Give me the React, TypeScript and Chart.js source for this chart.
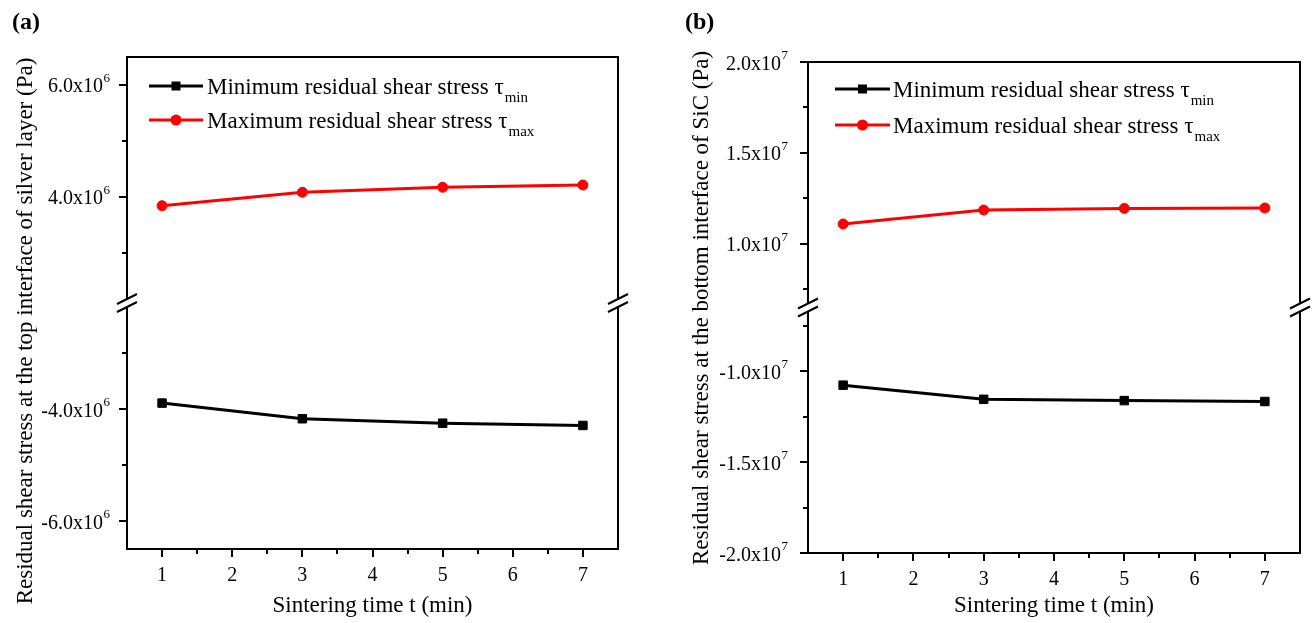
import React, { useEffect, useRef } from 'react';
import { Chart, registerables } from 'chart.js';

Chart.register(...registerables);

const FONT = "'Liberation Serif', 'Times New Roman', Times, serif";

// ---------- shared data ----------
const sinteringTimes = [1, 3, 5, 7];
const xTickValues = [1, 2, 3, 4, 5, 6, 7];
const xMinorTickValues = [1.5, 2.5, 3.5, 4.5, 5.5, 6.5];
const legendLabels = ['Minimum residual shear stress τ', 'Maximum residual shear stress τ'];
const legendSubscripts = ['min', 'max'];
const xTitle = 'Sintering time t (min)';

// ---------- panel (a): top interface of silver layer ----------
const silverMinStress = [-3.89e6, -4.17e6, -4.25e6, -4.29e6];
const silverMaxStress = [3.84e6, 4.08e6, 4.17e6, 4.21e6];
const silverUpperRange = [2.1e6, 6.5e6];
const silverLowerRange = [-6.5e6, -2.1e6];
const silverUpperTicks = [4e6, 6e6];
const silverUpperMinor = [3e6, 5e6];
const silverLowerTicks = [-6e6, -4e6];
const silverLowerMinor = [-5e6, -3e6];

// ---------- panel (b): bottom interface of SiC ----------
const sicMinStress = [-1.077e7, -1.155e7, -1.162e7, -1.167e7];
const sicMaxStress = [1.109e7, 1.186e7, 1.195e7, 1.197e7];
const sicUpperRange = [0.65e7, 2.0e7];
const sicLowerRange = [-2.0e7, -0.65e7];
const sicUpperTicks = [1.0e7, 1.5e7, 2.0e7];
const sicUpperMinor = [0.75e7, 1.25e7, 1.75e7];
const sicLowerTicks = [-2.0e7, -1.5e7, -1.0e7];
const sicLowerMinor = [-1.75e7, -1.25e7, -0.75e7];

type PanelCfg = {
  left: number;
  width: number;
  height: number;
  area: { left: number; right: number; top: number; bottom: number };
  minData: number[];
  maxData: number[];
  upperRange: number[];
  lowerRange: number[];
  upperTicks: number[];
  upperMinor: number[];
  lowerTicks: number[];
  lowerMinor: number[];
  exp: number;
  yTitle: string;
  yTitleX: number;
  yTitleCenter: number;
  legendLine: number[];
  legendTextX: number;
  legendRows: number[];
  tag: string;
  tagX: number;
  labelGap: number;
};

const panelA: PanelCfg = {
  left: 0,
  width: 657,
  height: 623,
  area: { left: 127, right: 618, top: 57, bottom: 549 },
  minData: silverMinStress,
  maxData: silverMaxStress,
  upperRange: silverUpperRange,
  lowerRange: silverLowerRange,
  upperTicks: silverUpperTicks,
  upperMinor: silverUpperMinor,
  lowerTicks: silverLowerTicks,
  lowerMinor: silverLowerMinor,
  exp: 6,
  yTitle: 'Residual shear stress at the top interface of silver layer (Pa)',
  yTitleX: 32,
  yTitleCenter: 331,
  legendLine: [149, 203],
  legendTextX: 207,
  legendRows: [86, 120],
  tag: '(a)',
  tagX: 12,
  labelGap: 17,
};

const panelB: PanelCfg = {
  left: 657,
  width: 657,
  height: 623,
  area: { left: 151, right: 643, top: 62, bottom: 553 },
  minData: sicMinStress,
  maxData: sicMaxStress,
  upperRange: sicUpperRange,
  lowerRange: sicLowerRange,
  upperTicks: sicUpperTicks,
  upperMinor: sicUpperMinor,
  lowerTicks: sicLowerTicks,
  lowerMinor: sicLowerMinor,
  exp: 7,
  yTitle: 'Residual shear stress at the bottom interface of SiC (Pa)',
  yTitleX: 51,
  yTitleCenter: 308,
  legendLine: [178, 233],
  legendTextX: 236,
  legendRows: [89, 125],
  tag: '(b)',
  tagX: 28,
  labelGap: 20,
};

function makeDecorPlugin(cfg: PanelCfg) {
  return {
    id: 'panelDecor',
    afterDraw(chart: any) {
      const ctx: CanvasRenderingContext2D = chart.ctx;
      const { left, right, top, bottom } = chart.chartArea;
      const xs = chart.scales.x;
      const hi = chart.scales.yHi;
      const lo = chart.scales.yLo;
      ctx.save();
      ctx.strokeStyle = '#000';
      ctx.fillStyle = '#000';
      ctx.lineWidth = 2;
      ctx.lineCap = 'butt';

      // frame
      ctx.strokeRect(left, top, right - left, bottom - top);

      // ticks
      ctx.beginPath();
      xTickValues.forEach((v) => {
        const p = Math.round(xs.getPixelForValue(v));
        ctx.moveTo(p, bottom);
        ctx.lineTo(p, bottom + 8);
      });
      xMinorTickValues.forEach((v) => {
        const p = Math.round(xs.getPixelForValue(v));
        ctx.moveTo(p, bottom);
        ctx.lineTo(p, bottom + 5);
      });
      const ySets: [any, number[], number[]][] = [
        [hi, cfg.upperTicks, cfg.upperMinor],
        [lo, cfg.lowerTicks, cfg.lowerMinor],
      ];
      ySets.forEach(([s, maj, mnr]) => {
        maj.forEach((v) => {
          const p = Math.round(s.getPixelForValue(v));
          ctx.moveTo(left, p);
          ctx.lineTo(left - 8, p);
        });
        mnr.forEach((v) => {
          const p = Math.round(s.getPixelForValue(v));
          ctx.moveTo(left, p);
          ctx.lineTo(left - 5, p);
        });
      });
      ctx.stroke();

      // axis breaks
      const yb = hi.bottom;
      [left, right].forEach((ax) => {
        ctx.fillStyle = '#fff';
        ctx.beginPath();
        ctx.moveTo(ax - 10, yb - 4 + 5);
        ctx.lineTo(ax + 10, yb - 4 - 5);
        ctx.lineTo(ax + 10, yb + 4 - 5);
        ctx.lineTo(ax - 10, yb + 4 + 5);
        ctx.closePath();
        ctx.fill();
        ctx.beginPath();
        ctx.moveTo(ax - 10, yb - 4 + 5);
        ctx.lineTo(ax + 10, yb - 4 - 5);
        ctx.moveTo(ax - 10, yb + 4 + 5);
        ctx.lineTo(ax + 10, yb + 4 - 5);
        ctx.stroke();
      });
      ctx.fillStyle = '#000';

      // x tick labels
      ctx.font = `20px ${FONT}`;
      ctx.textAlign = 'center';
      ctx.textBaseline = 'alphabetic';
      xTickValues.forEach((v) => {
        ctx.fillText(String(v), xs.getPixelForValue(v), bottom + 32);
      });

      // y tick labels with superscript exponent
      const labelRight = left - cfg.labelGap;
      const div = Math.pow(10, cfg.exp);
      ySets.forEach(([s, maj]) => {
        maj.forEach((v) => {
          const p = s.getPixelForValue(v);
          const sup = String(cfg.exp);
          ctx.font = `13px ${FONT}`;
          const supW = ctx.measureText(sup).width;
          ctx.textAlign = 'left';
          ctx.fillText(sup, labelRight - supW, p - 3);
          ctx.font = `20px ${FONT}`;
          ctx.textAlign = 'right';
          ctx.fillText((v / div).toFixed(1) + 'x10', labelRight - supW - 0.5, p + 7.5);
        });
      });

      // axis titles
      ctx.font = `23px ${FONT}`;
      ctx.textAlign = 'center';
      ctx.fillText(xTitle, (left + right) / 2, 612);
      ctx.save();
      ctx.translate(cfg.yTitleX, cfg.yTitleCenter);
      ctx.rotate(-Math.PI / 2);
      ctx.fillText(cfg.yTitle, 0, 0);
      ctx.restore();

      // legend
      const colors = ['#000000', '#ff0000'];
      cfg.legendRows.forEach((ry, i) => {
        const c = colors[i];
        ctx.strokeStyle = c;
        ctx.fillStyle = c;
        ctx.lineWidth = 3;
        ctx.beginPath();
        ctx.moveTo(cfg.legendLine[0], ry);
        ctx.lineTo(cfg.legendLine[1], ry);
        ctx.stroke();
        const mx = (cfg.legendLine[0] + cfg.legendLine[1]) / 2;
        if (i === 0) {
          ctx.fillRect(mx - 4.5, ry - 4.5, 9, 9);
        } else {
          ctx.beginPath();
          ctx.arc(mx, ry, 5.5, 0, Math.PI * 2);
          ctx.fill();
        }
        ctx.fillStyle = '#000';
        ctx.font = `23px ${FONT}`;
        ctx.textAlign = 'left';
        ctx.fillText(legendLabels[i], cfg.legendTextX, ry + 7.5);
        const w = ctx.measureText(legendLabels[i]).width;
        ctx.font = `15px ${FONT}`;
        ctx.fillText(legendSubscripts[i], cfg.legendTextX + w + 1, ry + 16);
      });

      // panel tag
      ctx.fillStyle = '#000';
      ctx.font = `bold 24px ${FONT}`;
      ctx.textAlign = 'left';
      ctx.fillText(cfg.tag, cfg.tagX, 29);

      ctx.restore();
    },
  };
}

function Panel({ cfg }: { cfg: PanelCfg }) {
  const ref = useRef<HTMLCanvasElement>(null);
  useEffect(() => {
    const canvas = ref.current;
    if (!canvas) return;
    const hidden = {
      ticks: { display: false },
      grid: { display: false },
      border: { display: false },
    };
    const chart = new Chart(canvas, {
      type: 'line',
      data: {
        datasets: [
          {
            label: legendLabels[0] + legendSubscripts[0],
            data: sinteringTimes.map((t, i) => ({ x: t, y: cfg.minData[i] })),
            yAxisID: 'yLo',
            borderColor: '#000000',
            backgroundColor: '#000000',
            borderWidth: 3,
            pointStyle: 'rect',
            pointRadius: 6,
            pointBorderWidth: 1,
            tension: 0,
          },
          {
            label: legendLabels[1] + legendSubscripts[1],
            data: sinteringTimes.map((t, i) => ({ x: t, y: cfg.maxData[i] })),
            yAxisID: 'yHi',
            borderColor: '#ff0000',
            backgroundColor: '#ff0000',
            borderWidth: 3,
            pointStyle: 'circle',
            pointRadius: 5,
            pointBorderWidth: 1,
            tension: 0,
          },
        ],
      },
      options: {
        responsive: false,
        animation: false,
        devicePixelRatio: 1,
        layout: {
          padding: {
            top: cfg.area.top,
            left: 0,
            right: cfg.width - cfg.area.right,
            bottom: 0,
          },
        },
        plugins: {
          legend: { display: false },
          tooltip: { enabled: false },
        },
        scales: {
          x: {
            type: 'linear',
            min: 0.5,
            max: 7.5,
            ...hidden,
            afterBuildTicks: (s: any) => {
              s.ticks = xTickValues.map((v) => ({ value: v }));
            },
            afterFit: (s: any) => {
              s.height = cfg.height - cfg.area.bottom;
            },
          },
          yLo: {
            type: 'linear',
            position: 'left',
            stack: 'broken',
            stackWeight: cfg.lowerRange[1] - cfg.lowerRange[0],
            min: cfg.lowerRange[0],
            max: cfg.lowerRange[1],
            ...hidden,
            afterFit: (s: any) => {
              s.width = cfg.area.left;
            },
          },
          yHi: {
            type: 'linear',
            position: 'left',
            stack: 'broken',
            stackWeight: cfg.upperRange[1] - cfg.upperRange[0],
            min: cfg.upperRange[0],
            max: cfg.upperRange[1],
            ...hidden,
            afterFit: (s: any) => {
              s.width = cfg.area.left;
            },
          },
        },
      } as any,
      plugins: [makeDecorPlugin(cfg)],
    });
    return () => chart.destroy();
  }, [cfg]);
  return (
    <canvas
      ref={ref}
      width={cfg.width}
      height={cfg.height}
      style={{ position: 'absolute', left: cfg.left, top: 0, width: cfg.width, height: cfg.height }}
    />
  );
}

export default function App() {
  return (
    <div style={{ position: 'absolute', left: 0, top: 0, width: 1314, height: 623, background: '#fff' }}>
      <Panel cfg={panelA} />
      <Panel cfg={panelB} />
    </div>
  );
}
